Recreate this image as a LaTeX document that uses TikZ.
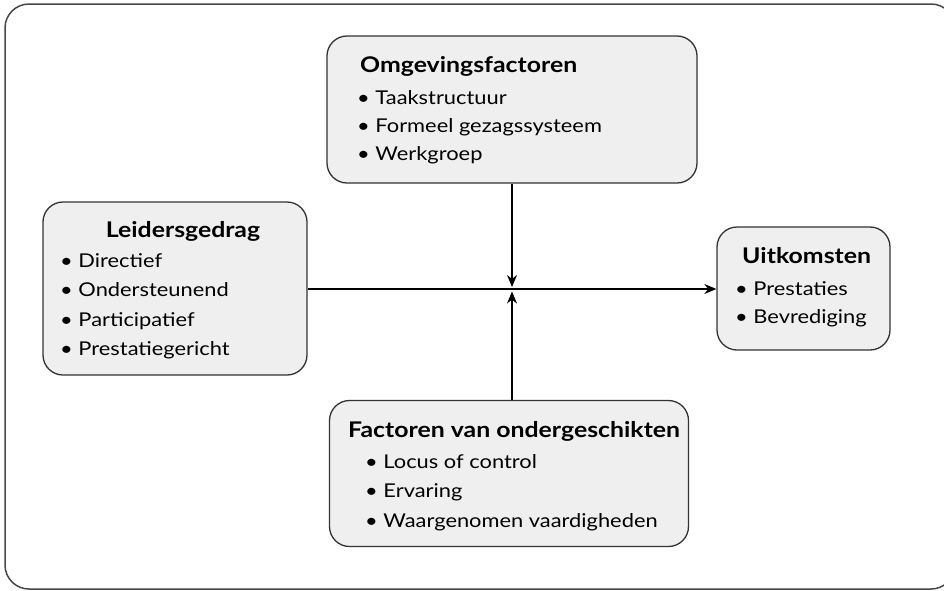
\documentclass[tikz,border=0pt]{standalone}
\usepackage{fontspec}
\setmainfont{Lato}[FakeStretch=1.15]
\usetikzlibrary{arrows.meta}
\definecolor{boxfill}{HTML}{EFEFEF}
\definecolor{edge}{HTML}{333333}
\tikzset{
  box/.style={draw=edge, line width=1.3pt, fill=boxfill, rounded corners=20pt, inner sep=0pt},
  ttl/.style={anchor=base west, inner sep=0pt, font=\fontsize{21.6}{26}\selectfont\bfseries},
  itm/.style={anchor=base west, inner sep=0pt, font=\fontsize{19}{23}\selectfont},
  conn/.style={draw=black, line width=1.2pt, -{Stealth[length=12pt,width=10pt]}},
}
\begin{document}
\begin{tikzpicture}[x=1pt,y=-1pt]
\useasboundingbox (0,0) rectangle (944,590);
\draw[draw=edge!90, line width=1.5pt, rounded corners=24pt] (5,4) rectangle (955,589);

% boxes
\node[box, minimum width=370pt, minimum height=147pt] (omg) at (512,109.5) {};
\node[box, minimum width=264pt, minimum height=173pt] (leid) at (175,288.5) {};
\node[box, minimum width=173pt, minimum height=123pt] (uit) at (803.5,288.5) {};
\node[box, minimum width=359pt, minimum height=146pt] (fac) at (509,473.5) {};

% texts
\node[ttl] (omgT) at (360,72) {Omgevingsfactoren};
\node[itm] (omg1) at (357,104) {\textbullet\ Taakstructuur};
\node[itm] (omg2) at (357,132) {\textbullet\ Formeel gezagssysteem};
\node[itm] (omg3) at (357,160) {\textbullet\ Werkgroep};

\node[ttl, anchor=base] (leidT) at (183,237) {Leidersgedrag};
\node[itm] (leid1) at (60,267) {\textbullet\ Directief};
\node[itm] (leid2) at (60,296.5) {\textbullet\ Ondersteunend};
\node[itm] (leid3) at (60,326) {\textbullet\ Participatief};
\node[itm] (leid4) at (60,355.5) {\textbullet\ Prestatiegericht};

\node[ttl] (uitT) at (742,263) {Uitkomsten};
\node[itm] (uit1) at (735,295) {\textbullet\ Prestaties};
\node[itm] (uit2) at (735,323.5) {\textbullet\ Bevrediging};

\node[ttl] (facT) at (348,437) {Factoren van ondergeschikten};
\node[itm] (fac1) at (365,468) {\textbullet\ Locus of control};
\node[itm] (fac2) at (365,497.5) {\textbullet\ Ervaring};
\node[itm] (fac3) at (365,527) {\textbullet\ Waargenomen vaardigheden};

% connectors
\coordinate (X) at (512,289);
\coordinate (tipD) at (512,287);
\coordinate (tipU) at (512,291.5);
\draw[conn] (leid.east |- X) -- (uit.west |- X);
\draw[conn] (omg.south -| X) -- (tipD);
\draw[conn] (fac.north -| X) -- (tipU);
\end{tikzpicture}
\end{document}
